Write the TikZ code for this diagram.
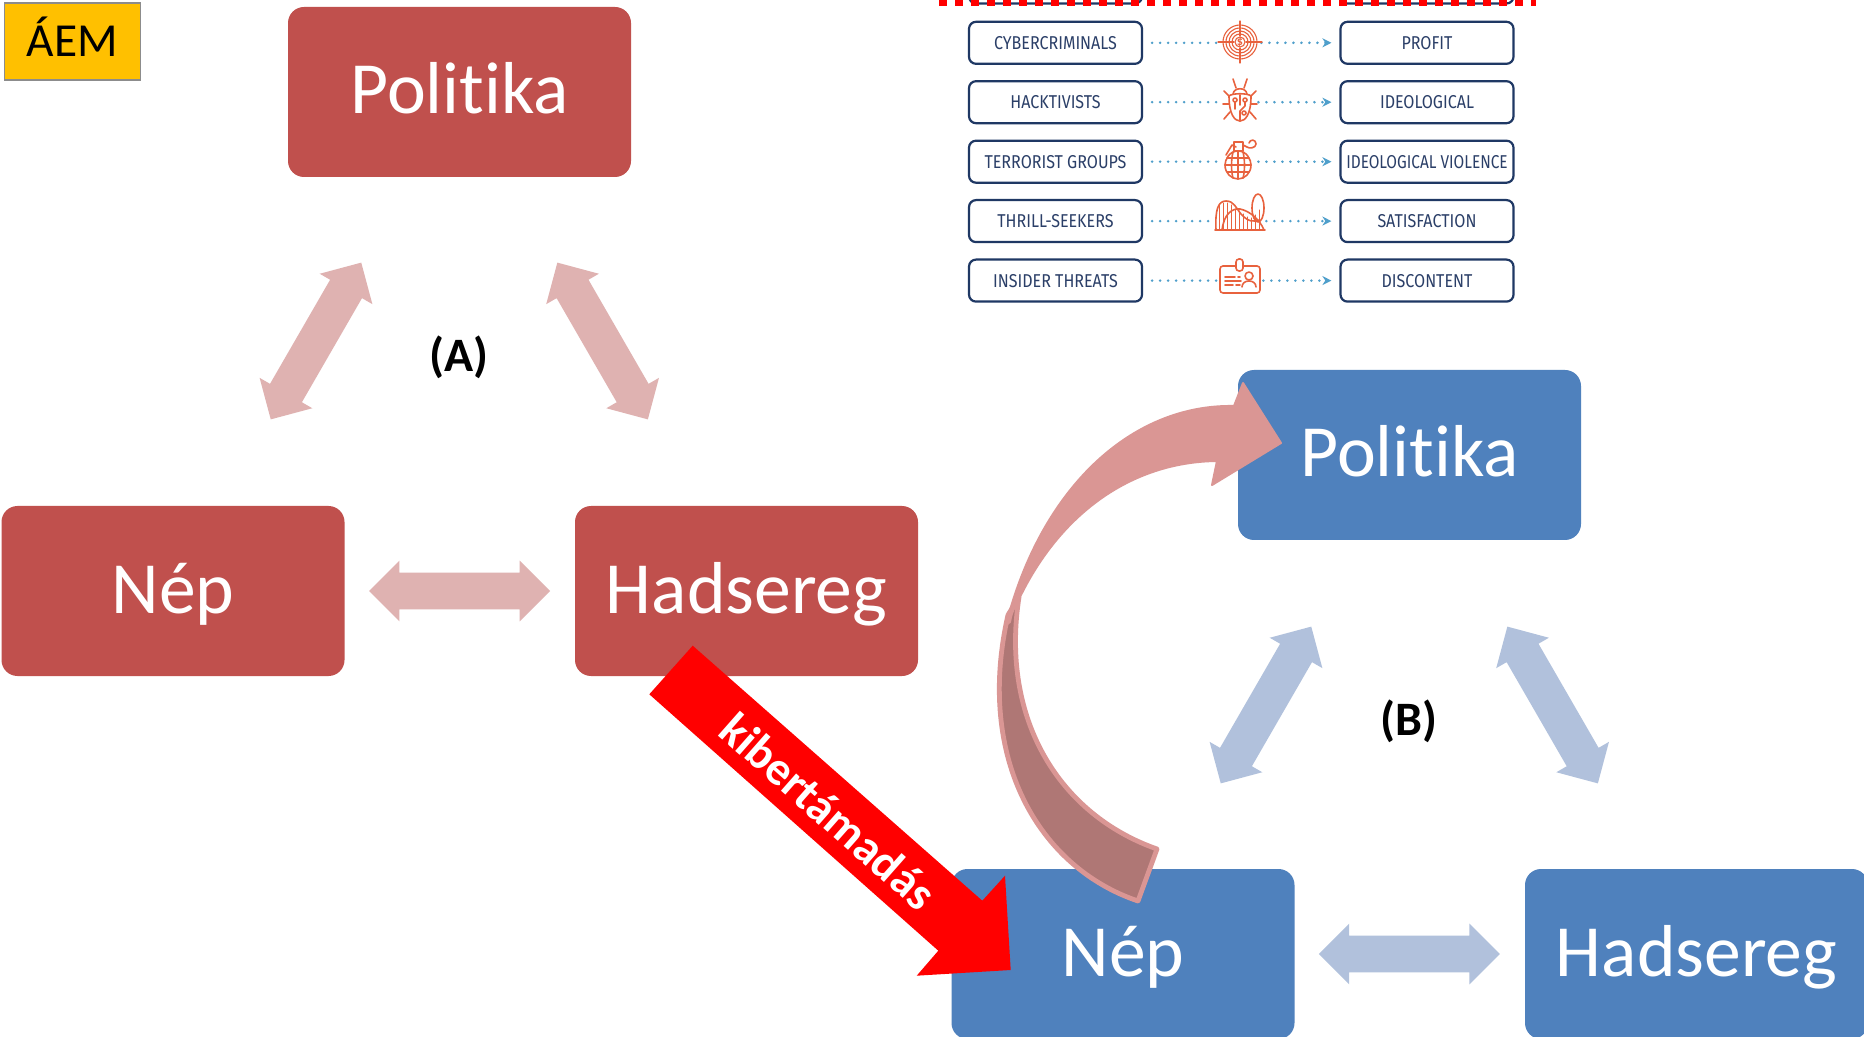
\documentclass[tikz,border=0pt]{standalone}
\usepackage{fontspec}
\setmainfont{Carlito}[Ligatures=NoCommon]
\newfontfamily\tabfont[FakeStretch=0.863]{Fira Sans}
\usetikzlibrary{shapes.arrows,arrows.meta}
\definecolor{redbox}{HTML}{C0504D}
\definecolor{bluebox}{HTML}{4F81BD}
\definecolor{redlight}{HTML}{DFB2B1}
\definecolor{bluelight}{HTML}{B1C1DC}
\definecolor{curvefront}{HTML}{DA9694}
\definecolor{curveback}{HTML}{AF7775}
\definecolor{navy}{HTML}{1F3864}
\definecolor{navytext}{HTML}{2B3F68}
\definecolor{dotblue}{HTML}{4F9FCB}
\definecolor{iconor}{HTML}{E8623E}
\definecolor{aemfill}{HTML}{FFC000}
\definecolor{aemedge}{HTML}{8C8C8C}
\tikzset{
  bigbox/.style={rounded corners=8pt,minimum width=171.5pt,minimum height=85pt,inner sep=0pt,text=white,text height=26pt,text depth=4pt,font=\fontsize{36.8}{40}\selectfont},
  redb/.style={bigbox,fill=redbox},
  blueb/.style={bigbox,fill=bluebox},
  dbl/.style={double arrow,double arrow head extend=6pt,double arrow tip angle=90,minimum height=90.5pt,inner sep=0pt,text width=0pt,text height=9pt,text depth=9pt},
  tabbox/.style={draw=navy,line width=1.1pt,rounded corners=3.5pt,fill=white,minimum width=86.5pt,minimum height=21pt,inner sep=0pt,text=navytext,font=\tabfont\fontsize{9.3}{10}\selectfont},
  dots/.style={dotblue,line width=1.4pt,line cap=round,dash pattern=on 0pt off 4pt},
  dotsarrow/.style={dots,-{Stealth[length=4.5pt,width=4.5pt,fill=dotblue]}},
  iconspot/.style={inner sep=0pt,minimum height=5pt},
  ic/.style={draw=iconor,line width=0.8pt,line cap=round,line join=round},
  lab/.style={font=\bfseries\fontsize{24}{28}\selectfont,text=black}
}
\begin{document}
\begin{tikzpicture}[x=0.5pt,y=-0.5pt]
\useasboundingbox (0,0) rectangle (1864,1037);
\clip (0,0) rectangle (1864,1037);
\fill[white] (0,0) rectangle (1864,1037);

% red triangle
\node[redb] (polA) at (459.5,92) {Politika};
\node[redb] (nepA) at (173,591) {Nép};
\node[redb] (hadA) at (746.5,591) {Hadsereg};
\node[dbl,fill=redlight,rotate=60] (arA1) at (316,341) {};
\node[dbl,fill=redlight,rotate=-60] (arA2) at (602.6,341) {};
\node[dbl,fill=redlight] (arA3) at (459.5,591) {};
\node[lab] (labA) at (459,357.5) {(A)};

% blue triangle
\node[blueb] (polB) at (1409.5,455) {Politika};
\node[blueb] (nepB) at (1123,954) {Nép};
\node[blueb] (hadB) at (1696.5,954) {Hadsereg};
\node[dbl,fill=bluelight,rotate=60] (arB1) at (1266,705) {};
\node[dbl,fill=bluelight,rotate=-60] (arB2) at (1552.6,705) {};
\node[dbl,fill=bluelight] (arB3) at (1409.3,954) {};
\node[lab] (labB) at (1409,721.5) {(B)};

% AEM
\node[fill=aemfill,draw=aemedge,line width=0.9pt,minimum width=68pt,minimum height=38.7pt,inner sep=0pt,text height=18pt,text depth=2.5pt,font=\fontsize{23.7}{26}\selectfont] (aem) at (72.5,41.5) {ÁEM};

% curved arrow
\draw[curvefront,fill=curveback,line width=2.4pt,line join=round]
  (1157,849) .. controls (1060,815) and (1000,720) .. (1019,597)
  -- (1008,615) .. controls (975,760) and (1040,868) .. (1138,901) -- cycle;
\fill[curvefront,draw=curvefront,line width=1pt,line join=round]
  (1234,406) .. controls (1130,404) and (1040,490) .. (1006,625)
  -- (1010,622) .. controls (1012,610) and (1016,605) .. (1020,597)
  .. controls (1060,515) and (1130,462) .. (1217,461)
  -- (1212,485) -- (1281,443) -- (1243,383) -- cycle;

% red attack arrow
\fill[red] (692.7,645.7) -- (649.3,694.3) -- (938.3,950.7) -- (916.7,975.7)
  -- (1010.7,970) -- (1005,875.7) -- (982.3,900.7) -- cycle;
\node[rotate=-41.4,text=white,inner sep=0pt,font=\bfseries\fontsize{23.7}{28}\selectfont] (kib) at (828.5,811) {kibertámadás};

% table: clipped row at the top
\node[tabbox] (topL) at (1055.5,-17.5) {};
\node[tabbox] (topR) at (1427,-17.5) {};
\draw[red,line width=3.2pt,dash pattern=on 4pt off 4pt] (939,3) -- (1536,3);

% table rows
\foreach \nm/\yy/\ww/\left/\right in {a/42.8/40/CYBERCRIMINALS/PROFIT,b/102.2/34/HACKTIVISTS/IDEOLOGICAL,c/161.7/34/TERRORIST GROUPS/\scalebox{0.96}[1]{IDEOLOGICAL VIOLENCE},d/221.1/50/THRILL-SEEKERS/SATISFACTION,e/280.6/44/INSIDER THREATS/DISCONTENT}{
  \node[tabbox] (L\nm) at (1055.5,\yy) {\left};
  \node[tabbox] (R\nm) at (1427,\yy) {\right};
  \node[iconspot,minimum width=\ww*0.5pt] (I\nm) at (1241,\yy) {};
  \draw[dots,shorten <=4.5pt] (L\nm.east) -- (I\nm.west);
  \draw[dotsarrow,shorten >=4pt] (I\nm.east) -- (R\nm.west);
}

% target icon
\begin{scope}[shift={(1240,42)}]
  \foreach \r in {5,8,11,14,17}{\draw[ic,line width=0.55pt] (0,0) circle[radius=\r];}
  \draw[ic,line width=0.6pt] (-22,0) -- (-6,0) (6,0) -- (22,0) (0,-21) -- (0,-6) (0,6) -- (0,21);
  \node[text=iconor,inner sep=0pt,font=\bfseries\fontsize{6}{6}\selectfont] at (0,0) {\$};
\end{scope}

% bug icon
\begin{scope}[shift={(1240,103)}]
  \draw[ic,fill=white] (-11,-7) .. controls (-11,12) and (-5,18) .. (0,18) .. controls (5,18) and (11,12) .. (11,-7) .. controls (8,-10) and (-8,-10) .. (-11,-7) -- cycle;
  \draw[ic] (-7,-9) .. controls (-6,-16) and (6,-16) .. (7,-9);
  \draw[ic] (-4,-15) -- (-7,-24) (4,-15) -- (7,-24);
  \draw[ic] (-11,-7) -- (-16,-12) (11,-7) -- (16,-12);
  \draw[ic] (-11,1) -- (-17,1) (11,1) -- (17,1);
  \draw[ic] (-10,9) -- (-16,16) (10,9) -- (16,16);
  \draw[ic] (0,-8) -- (0,2) (-5,-3) -- (-5,6) (5,-3) -- (5,3) -- (0,8) -- (0,18);
  \draw[ic,fill=white] (-5,-3) circle[radius=2] (5,-3) circle[radius=2] (4,10) circle[radius=2];
\end{scope}

% grenade icon
\begin{scope}[shift={(1238,163)}]
  \draw[ic] (-12,-8) -- (-6,-18) -- (-2,-16);
  \draw[ic] (-4,-21) rectangle (5,-12);
  \draw[ic] (5,-18) -- (9,-16) .. controls (11,-14) and (18,-15) .. (18,-19) .. controls (18,-24) and (12,-24) .. (11,-20);
  \draw[ic] (0,-12) .. controls (-9,-12) and (-13,-3) .. (-13,2) .. controls (-13,10) and (-7,16) .. (0,16) .. controls (7,16) and (13,10) .. (13,2) .. controls (13,-3) and (9,-12) .. (0,-12) -- cycle;
  \draw[ic] (-11,-5) -- (11,-5) (-13,2) -- (13,2) (-11,9) -- (11,9);
  \draw[ic] (-5,-11) .. controls (-7,-3) and (-7,8) .. (-5,15) (5,-11) .. controls (7,-3) and (7,8) .. (5,15) (0,-12) -- (0,16);
\end{scope}

% coaster icon
\begin{scope}[shift={(1240,214)}]
  \draw[ic] (-25,16) -- (25,16);
  \foreach \xx/\tp in {-21/-10,-17/-11,-13/-11,-9/-9,-5/-5,-1/-3,3/0,7/3,11/4,15/1,19/-4}{\draw[ic,line width=0.5pt] (\xx,16) -- (\xx,\tp);}
  \draw[ic] (-24,16) .. controls (-25,-4) and (-22,-13) .. (-14,-13) .. controls (-6,-13) and (-4,-6) .. (1,0) .. controls (8,8) and (14,8) .. (18,6);
  \draw[ic] (-18,16) .. controls (-16,0) and (-8,-6) .. (0,-5) .. controls (10,-3) and (20,6) .. (24,16);
  \draw[ic] (18,-6) ellipse[x radius=6,y radius=14];
\end{scope}

% badge icon
\begin{scope}[shift={(1240,277)}]
  \draw[ic,rounded corners=1.5pt,fill=white] (-20,-11) rectangle (20,16);
  \draw[ic,rounded corners=1.5pt,fill=white] (-4,-18) rectangle (3,-6);
  \draw[ic] (-15,0) -- (-5,0) (-2,0) -- (0,0) (-15,4) -- (1,4) (-15,8) -- (-7,8) (-4,8) -- (0,8);
  \draw[ic] (9,-1) circle[radius=4];
  \draw[ic] (2,10) .. controls (2,2) and (16,2) .. (16,10);
\end{scope}
\end{tikzpicture}
\end{document}
